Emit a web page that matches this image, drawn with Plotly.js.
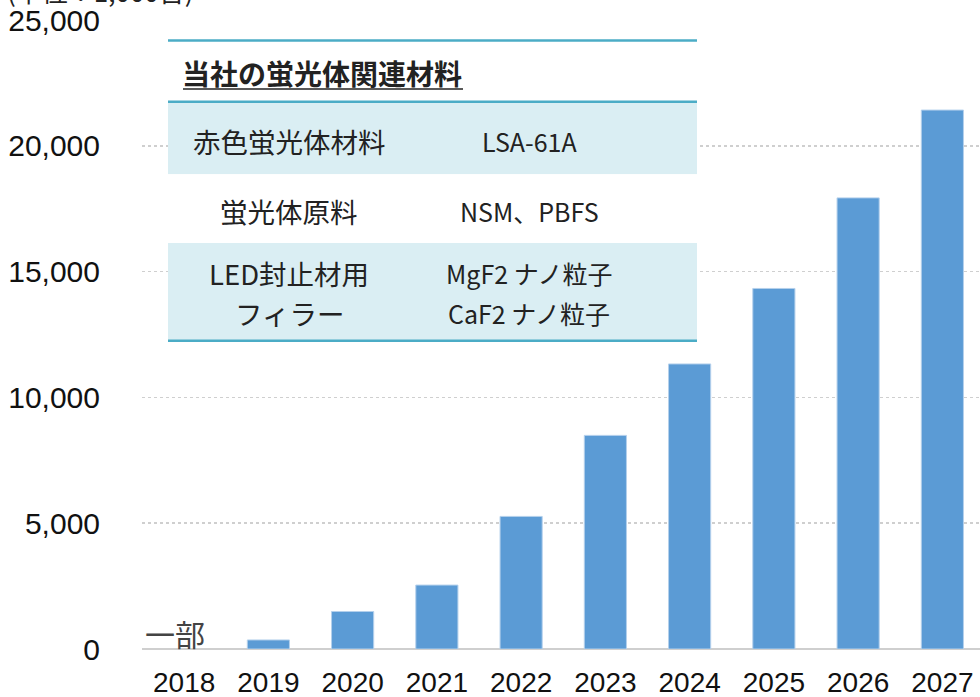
<!DOCTYPE html>
<html><head><meta charset="utf-8">
<script src="https://cdn.plot.ly/plotly-3.0.1.min.js"></script>
<style>html,body{margin:0;padding:0;background:#fff;}#chart{width:980px;height:697px;}</style>
</head><body><div id="chart"></div>
<script>
// ---- data ----
const years = ['2018','2019','2020','2021','2022','2023','2024','2025','2026','2027'];
const units = [null, 360, 1490, 2540, 5270, 8490, 11330, 14330, 17930, 21420];
const yTicks = [0, 5000, 10000, 15000, 20000, 25000];
const yTickLabels = ['0','5,000','10,000','15,000','20,000','25,000'];
const unitLabel = '(単位：1,000台)';
const partLabel = '一部';
const tableTitle = '当社の蛍光体関連材料';
const tableLeft = [['赤色蛍光体材料'], ['蛍光体原料'], ['LED封止材用', 'フィラー']];
const tableRight = [['LSA-61A'], ['NSM、PBFS'], ['MgF2 ナノ粒子', 'CaF2 ナノ粒子']];

// ---- layout helpers (pixel -> paper) ----
const W = 980, H = 697;
const L = 142, R = 0, T = 20, B = 47.7;
const pw = W - L - R, ph = H - T - B;
const px = x => (x - L) / pw;
const py = y => (H - B - y) / ph;

const jp = '"Noto Sans CJK JP", "Noto Sans", sans-serif';
const teal = '#4BACC6';
const rowFill = '#DAEEF3';

const shapes = [
  {type:'rect', xref:'paper', yref:'paper', x0:px(168), x1:px(697), y0:py(101.7), y1:py(174.3), fillcolor:rowFill, line:{width:0}, layer:'above'},
  {type:'rect', xref:'paper', yref:'paper', x0:px(168), x1:px(697), y0:py(174.3), y1:py(243), fillcolor:'#FFFFFF', line:{width:0}, layer:'above'},
  {type:'rect', xref:'paper', yref:'paper', x0:px(168), x1:px(697), y0:py(243), y1:py(341), fillcolor:rowFill, line:{width:0}, layer:'above'},
  {type:'rect', xref:'paper', yref:'paper', x0:px(168), x1:px(697), y0:py(40), y1:py(101.7), fillcolor:'#FFFFFF', line:{width:0}, layer:'above'},
  {type:'line', xref:'paper', yref:'paper', x0:px(168), x1:px(697), y0:py(40.5), y1:py(40.5), line:{color:teal, width:2.5}, layer:'above'},
  {type:'line', xref:'paper', yref:'paper', x0:px(168), x1:px(697), y0:py(101.7), y1:py(101.7), line:{color:teal, width:2.5}, layer:'above'},
  {type:'line', xref:'paper', yref:'paper', x0:px(168), x1:px(697), y0:py(341), y1:py(341), line:{color:teal, width:2.5}, layer:'above'},
  {type:'line', xref:'paper', yref:'paper', x0:px(183), x1:px(463), y0:py(89), y1:py(89), line:{color:'#222', width:1.6}, layer:'above'}
];

const rowY = [[141.5], [211.5], [273, 313]];
const annotations = [
  {xref:'paper', yref:'paper', x:px(322), y:py(73), xanchor:'center', yanchor:'middle', showarrow:false,
   text:'<b>'+tableTitle+'</b>', font:{family:jp, size:28, color:'#222'}},
  {xref:'paper', yref:'paper', x:px(5), y:py(11), xanchor:'left', yanchor:'bottom', showarrow:false,
   text:unitLabel, font:{family:jp, size:26, color:'#222'}},
  {xref:'paper', yref:'paper', x:px(175), y:py(633), xanchor:'center', yanchor:'middle', showarrow:false,
   text:partLabel, font:{family:jp, size:30, color:'#444'}}
];
tableLeft.forEach((lines,i)=>lines.forEach((t,j)=>annotations.push({xref:'paper', yref:'paper', x:px(289), y:py(rowY[i][j]), xanchor:'center', yanchor:'middle', showarrow:false,
   text:t, font:{family:jp, size:27.5, color:'#222'}})));
tableRight.forEach((lines,i)=>lines.forEach((t,j)=>annotations.push({xref:'paper', yref:'paper', x:px(529), y:py(rowY[i][j]), xanchor:'center', yanchor:'middle', showarrow:false,
   text:t, font:{family:jp, size:25, color:'#222'}})));

const trace = {
  type:'bar', x:years, y:units, width:0.5,
  marker:{color:'#5B9BD5', line:{color:'#B4D0EC', width:1}},
  hoverinfo:'skip'
};

const layout = {
  width:W, height:H, margin:{l:L, r:R, t:T, b:B, pad:0},
  paper_bgcolor:'#fff', plot_bgcolor:'#fff', showlegend:false,
  xaxis:{type:'category', range:[-0.5, -0.5 + pw/84.25], showgrid:false, zeroline:false, showline:false,
    ticks:'outside', ticklen:8, tickcolor:'rgba(0,0,0,0)',
    tickfont:{family:'"Liberation Sans", Arial, sans-serif', size:28, color:'#111'}, fixedrange:true},
  yaxis:{range:[0,25000], tickvals:yTicks, ticktext:yTickLabels, showgrid:true, gridcolor:'#CFCFCF', gridwidth:1.5, griddash:'dot',
    zeroline:true, zerolinecolor:'#CFCFCF', zerolinewidth:1.5, showline:false,
    ticks:'outside', ticklen:35, tickcolor:'rgba(0,0,0,0)',
    tickfont:{family:'"Liberation Sans", Arial, sans-serif', size:30, color:'#111'}, fixedrange:true},
  shapes:shapes, annotations:annotations
};

Plotly.newPlot('chart', [trace], layout, {displayModeBar:false, staticPlot:true});
</script>
</body></html>
